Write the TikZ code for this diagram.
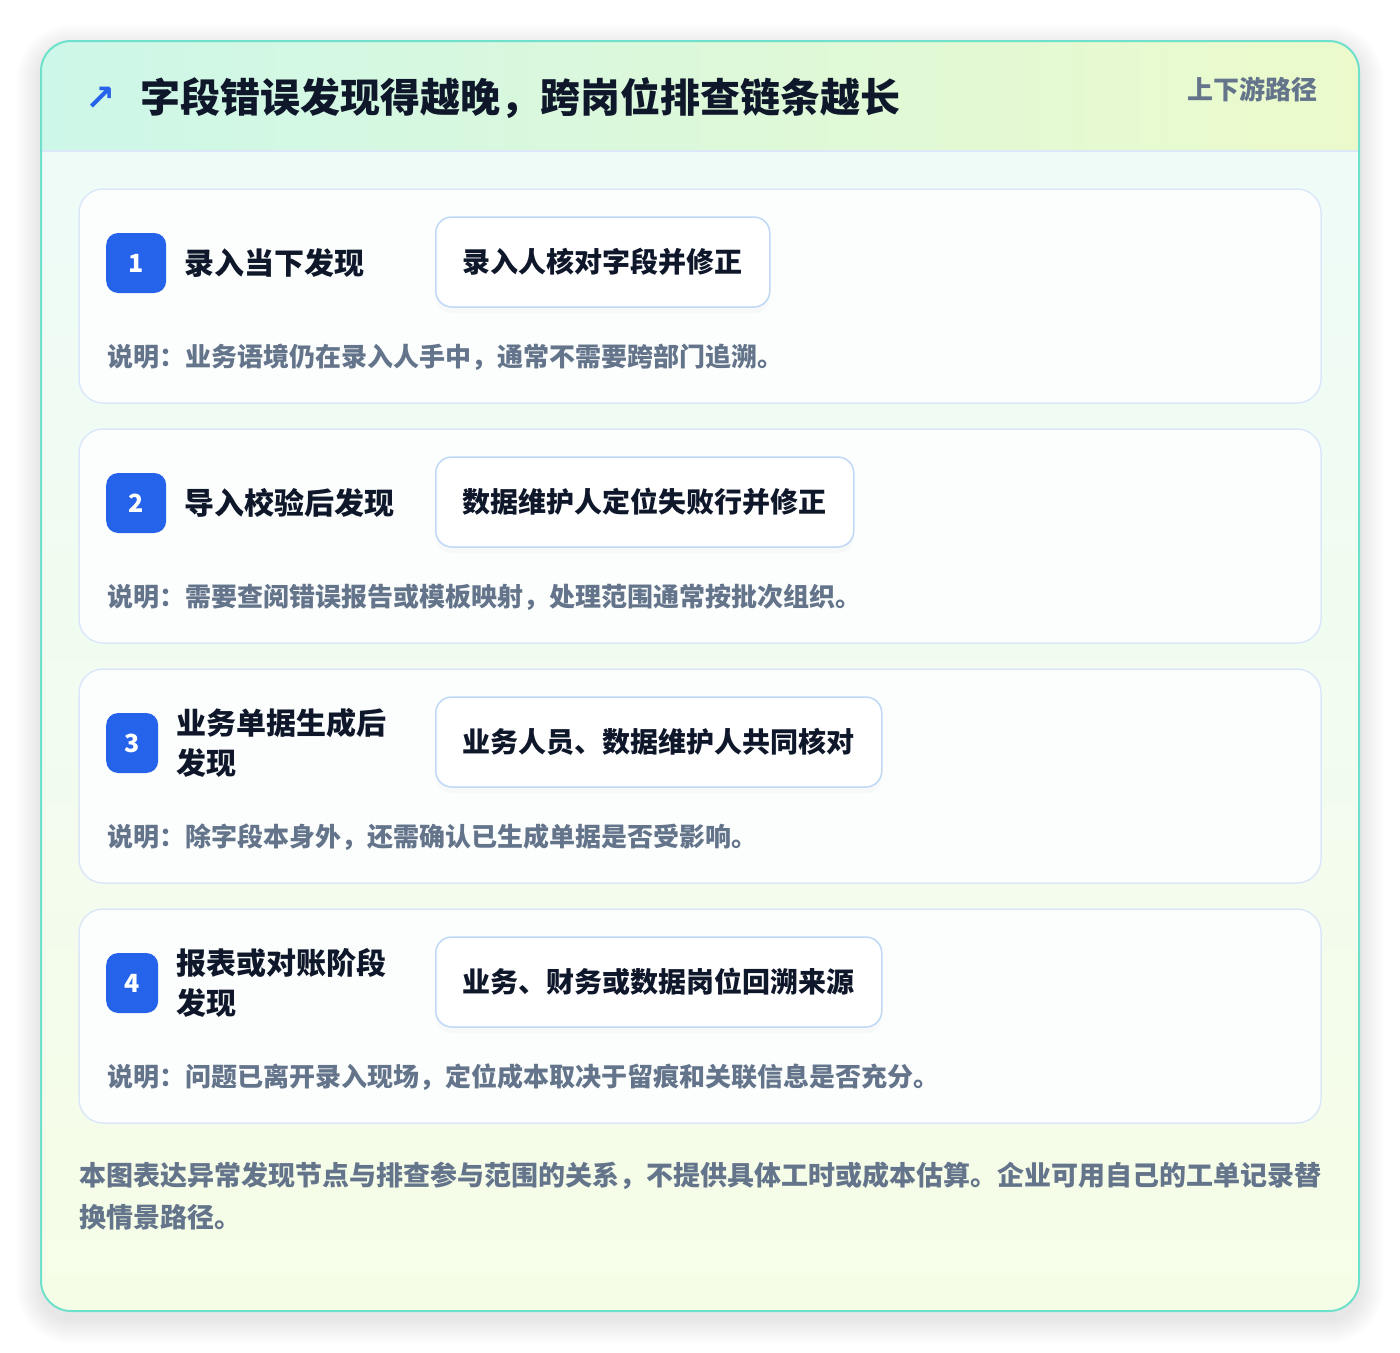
\documentclass[tikz,border=0pt]{standalone}
\usepackage{fontspec}
\setmainfont{Noto Sans CJK SC}
\newfontfamily\symfont{DejaVu Sans}
\usetikzlibrary{positioning,shadows}

\definecolor{frameteal}{HTML}{6EE0CC}
\definecolor{headmint}{HTML}{CDF7E9}
\definecolor{headlime}{HTML}{ECFACB}
\definecolor{bodytop}{HTML}{EEFBF7}
\definecolor{bodybot}{HTML}{F6FDE7}
\definecolor{cardline}{HTML}{DCE8FA}
\definecolor{cardfill}{HTML}{FBFEFD}
\definecolor{actline}{HTML}{BFD8F6}
\definecolor{badgeblue}{HTML}{2563EB}
\definecolor{inkdark}{HTML}{0F172A}
\definecolor{inkgray}{HTML}{64748B}

\newcommand{\fsz}[2]{\fontsize{#1}{#2}\selectfont\bfseries}

\begin{document}
\begin{tikzpicture}[x=1pt,y=-1pt,
  card/.style={draw=cardline, line width=1.5, fill=cardfill, rounded corners=24,
    minimum width=1242, minimum height=214, inner sep=0},
  badge/.style={fill=badgeblue, rounded corners=12, minimum height=60, inner sep=0,
    text=white, font=\fsz{25}{25}},
  steplabel/.style={anchor=west, align=left, inner sep=0, text=inkdark, font=\fsz{30}{40}},
  actbox/.style={anchor=west, draw=actline, line width=1.5, fill=white, rounded corners=16,
    minimum height=90, inner sep=0, text=inkdark, font=\fsz{28}{28},
    drop shadow={opacity=0.04, shadow xshift=0pt, shadow yshift=-6pt}},
  notetext/.style={anchor=west, inner sep=0, text=inkgray, font=\fsz{26}{26}}]

  \useasboundingbox (0,0) rectangle (1400,1352);
  \fill[white] (0,0) rectangle (1400,1352);

  % soft shadow under the frame
  \foreach \i in {1,...,12}
    \fill[black, opacity=0.006, rounded corners=30+2*\i]
      (41-2*\i,49-2*\i) rectangle (1359+2*\i,1319+2*\i);

  \begin{scope}
    \clip[rounded corners=30] (41,41) rectangle (1359,1311);
    \shade[top color=bodytop, bottom color=bodybot] (41,151) rectangle (1359,1311);
    \shade[left color=headmint, right color=headlime] (41,41) rectangle (1359,151);
    \draw[cardline, line width=1.5] (41,151) -- (1359,151);
  \end{scope}
  \draw[frameteal, line width=2, rounded corners=30] (41,41) rectangle (1359,1311);

  \node[inner sep=0, text=badgeblue, font=\symfont\bfseries\fontsize{36}{36}\selectfont] (icon) at (101,99) {↗};
  \node[anchor=west, inner sep=0, text=inkdark, font=\fsz{40}{40}] (title) at (140,98)
    {字段错误发现得越晚，跨岗位排查链条越长};
  \node[anchor=east, inner sep=0, text=inkgray, font=\fsz{26}{26}] (tag) at (1318,89) {上下游路径};

  \foreach \k/\y/\bw/\lab/\act/\aw/\note in {
    1/189/60/{录入当下发现}/{录入人核对字段并修正}/334/{说明：业务语境仍在录入人手中，通常不需要跨部门追溯。},
    2/429/60/{导入校验后发现}/{数据维护人定位失败行并修正}/418/{说明：需要查阅错误报告或模板映射，处理范围通常按批次组织。},
    3/669/52/{业务单据生成后\\发现}/{业务人员、数据维护人共同核对}/446/{说明：除字段本身外，还需确认已生成单据是否受影响。},
    4/909/52/{报表或对账阶段\\发现}/{业务、财务或数据岗位回溯来源}/446/{说明：问题已离开录入现场，定位成本取决于留痕和关联信息是否充分。}}
  {
    \node[card] (card\k) at (700,\y+107) {};
    \node[badge, minimum width=\bw, anchor=west] (badge\k) at (106,\y+74) {\k};
    \node[steplabel, right=18 of badge\k] (label\k) {\lab};
    \node[actbox, minimum width=\aw] (act\k) at (435,\y+73) {\act};
    \node[notetext] (note\k) at (107,\y+168) {\note};
  }

  \node[anchor=west, align=left, inner sep=0, text=inkgray, font=\fsz{27}{42}] (footer) at (79,1196)
    {本图表达异常发现节点与排查参与范围的关系，不提供具体工时或成本估算。企业可用自己的工单记录替\\换情景路径。};
\end{tikzpicture}
\end{document}
